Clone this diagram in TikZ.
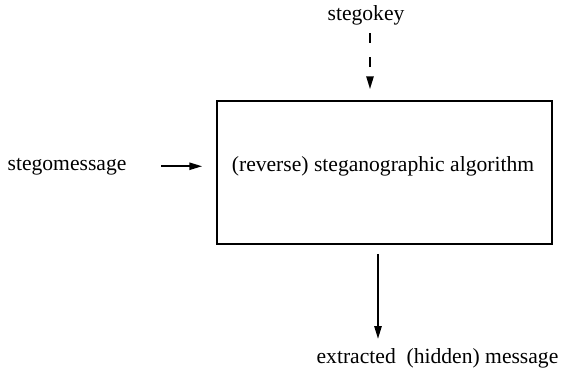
\documentclass[tikz,border=0pt]{standalone}
\usepackage{fontspec}
\setmainfont{Liberation Serif}
\usetikzlibrary{arrows.meta}
\tikzset{
  txt/.style={inner sep=0pt, anchor=base, font=\fontsize{10.8}{13}\selectfont},
  arr/.style={line width=1pt, -{Triangle[length=6.5pt,width=3.6pt]}},
}
\begin{document}
\begin{tikzpicture}[x=0.5pt, y=-0.5pt]
\useasboundingbox (0,0) rectangle (563,377);
% the algorithm box
\node[draw, line width=0.75pt, minimum width=167.5pt, minimum height=71.5pt, inner sep=0pt] (algo) at (384.5,172.5) {};
\node[txt] (algotxt) at (383,171) {(reverse) steganographic algorithm};

\node[txt] (key) at (366,20) {stegokey};
\node[txt] (msg) at (67,170) {stegomessage};
\node[txt] (out) at (437.5,363) {extracted\ \ (hidden) message};

% inputs and output
\draw[arr, dash pattern=on 5pt off 7pt, shorten <=4pt, shorten >=5.5pt]
  ([xshift=2pt]key.south) -- ([xshift=2pt]key.south |- algo.north);
\draw[arr] ([xshift=-27.5pt]algo.west |- msg.east) -- ([xshift=-7pt]algo.west |- msg.east);
\draw[arr, shorten <=4.5pt, shorten >=4.3pt]
  ([xshift=-3.25pt]algo.south) -- ([xshift=-3.25pt]algo.south |- out.north);
\end{tikzpicture}
\end{document}
